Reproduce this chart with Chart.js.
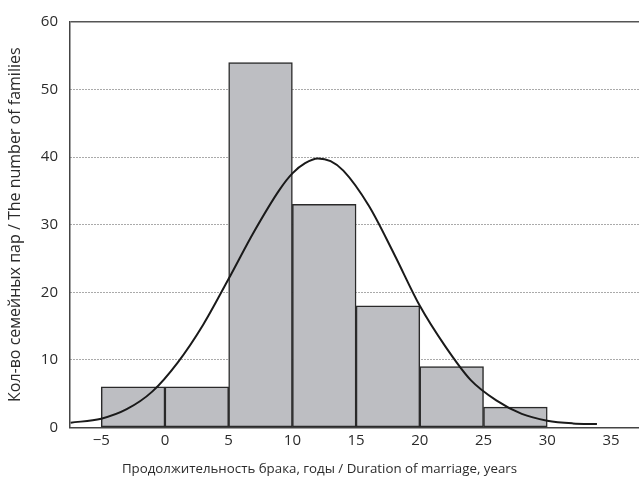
<!DOCTYPE html>
<html>
<head>
<meta charset="utf-8">
<script src="https://cdn.jsdelivr.net/npm/chart.js@4"></script>
<style>
  html, body { margin: 0; padding: 0; background: #fff; }
  canvas { display: block; }
</style>
</head>
<body>
<canvas id="chart" width="639" height="488"></canvas>
<script>
// Histogram bins: 5-year intervals, bar centres and family counts
const binCenters = [-2.5, 2.5, 7.5, 12.5, 17.5, 22.5, 27.5];
const familyCounts = [6, 6, 54, 33, 18, 9, 3];

// Fitted normal curve, sampled along the duration axis
const curveYears = [-7.4, -5, -3, -1, 1, 3, 5, 7, 9, 10, 11, 12, 13, 14, 16, 18, 20, 22, 24, 26, 28, 30, 32, 33.9];
const curveFamilies = [0.7, 1.3, 2.7, 5.3, 9.6, 15.2, 22.0, 29.0, 35.2, 37.6, 39.1, 39.8, 39.4, 38.0, 32.8, 25.6, 18.0, 12.0, 7.0, 4.0, 2.0, 1.0, 0.6, 0.5];

// Axis ticks
const xTickValues = [-5, 0, 5, 10, 15, 20, 25, 30, 35];
const yTickValues = [0, 10, 20, 30, 40, 50, 60];

const barData = binCenters.map((x, i) => ({ x: x, y: familyCounts[i] }));
const curveData = curveYears.map((x, i) => ({ x: x, y: curveFamilies[i] }));

const fontFamily = "'Open Sans', 'DejaVu Sans', sans-serif";
const textColor = '#2b2b2b';

new Chart(document.getElementById('chart'), {
  data: {
    datasets: [
      {
        type: 'line',
        data: curveData,
        borderColor: '#1a1a1a',
        borderWidth: 2,
        pointRadius: 0,
        fill: false,
        tension: 0.4,
        cubicInterpolationMode: 'monotone',
        order: 0
      },
      {
        type: 'bar',
        data: barData,
        backgroundColor: '#bdbec2',
        borderColor: '#2a2a2a',
        borderWidth: 1.5,
        borderSkipped: false,
        barPercentage: 1,
        categoryPercentage: 1,
        order: 1
      }
    ]
  },
  options: {
    responsive: false,
    devicePixelRatio: 1,
    animation: false,
    events: [],
    layout: { padding: { top: 22, left: 0, right: 0, bottom: 0 } },
    plugins: {
      legend: { display: false },
      tooltip: { enabled: false },
      title: {
        display: true,
        position: 'bottom',
        text: 'Продолжительность брака, годы / Duration of marriage, years',
        color: textColor,
        font: { family: fontFamily, size: 13.3, weight: 'normal' },
        padding: { top: 4, bottom: 11 }
      }
    },
    scales: {
      x: {
        type: 'linear',
        offset: false,
        min: -7.45,
        max: 37.2,
        afterBuildTicks: (scale) => { scale.ticks = xTickValues.map(v => ({ value: v })); },
        afterFit: (scale) => { scale.height = 29.6; },
        grid: { display: false, drawTicks: false },
        border: { display: true, color: '#444', width: 1.5 },
        ticks: {
          color: textColor,
          font: { family: fontFamily, size: 15 },
          padding: 4,
          maxRotation: 0,
          callback: (v) => (v < 0 ? '\u2212' + Math.abs(v) : String(v))
        }
      },
      y: {
        type: 'linear',
        min: 0,
        max: 60,
        afterBuildTicks: (scale) => { scale.ticks = yTickValues.map(v => ({ value: v })); },
        afterFit: (scale) => { scale.width = 70; },
        grid: {
          drawTicks: false,
          color: (ctx) => (ctx.tick && ctx.tick.value === 0 ? 'rgba(0,0,0,0)' : '#555'),
          lineWidth: (ctx) => (ctx.tick && ctx.tick.value === 60 ? 1.5 : 1)
        },
        border: {
          display: true,
          color: '#444',
          width: 1.5,
          dash: (ctx) => (ctx.tick ? (ctx.tick.value === 60 ? [] : [1, 2]) : [])
        },
        ticks: {
          color: textColor,
          font: { family: fontFamily, size: 15 },
          padding: 12
        },
        title: {
          display: true,
          text: 'Кол-во семейных пар / The number of families',
          color: textColor,
          font: { family: fontFamily, size: 16 },
          padding: { top: 6, bottom: 0 }
        }
      }
    }
  }
});
</script>
</body>
</html>
